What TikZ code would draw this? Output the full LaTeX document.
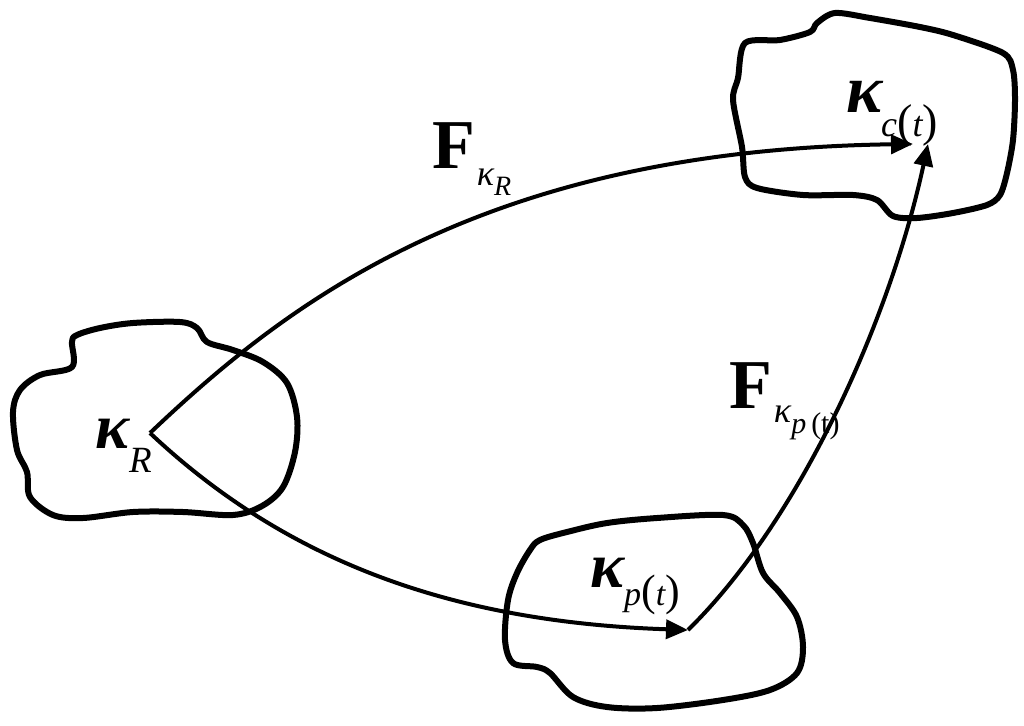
\documentclass[tikz,border=0pt]{standalone}
\usepackage{fontspec}
\setmainfont{Liberation Serif}
\usetikzlibrary{arrows.meta}
\tikzset{
  blob/.style={line width=6pt, line join=round},
  conn/.style={line width=4pt, -{Triangle[length=22pt,width=19pt]}},
  lbl/.style={inner sep=0pt, anchor=base west},
}
\newcommand{\fs}[1]{\fontsize{#1}{#1}\selectfont}
\newcommand{\bk}{{\bfseries\itshape κ}}
\newcommand{\mk}{{\mdseries\itshape κ}}
\begin{document}
\begin{tikzpicture}[x=1pt,y=-1pt]
\useasboundingbox (0,0) rectangle (1024,725);
% left blob
\draw[blob] plot[smooth cycle, tension=0.55] coordinates {
 (72,342) (72,367) (40,375) (20,390) (13,412) (17,450) (27,472) (30,497)
 (53,515) (83,518) (133,512) (183,512) (233,515) (262,506) (283,487)
 (295,452) (297,417) (287,383) (263,362) (233,350) (207,342) (197,328)
 (180,322) (133,323) (100,328) (77,335)};
% top right blob
\draw[blob] plot[smooth cycle, tension=0.5] coordinates {
 (745,43) (780,40) (810,32) (817,23) (835,13) (870,18) (920,27) (953,35)
 (1003,53) (1013,70) (1015,100) (1013,140) (1007,173) (1000,195) (987,205)
 (953,213) (917,218) (893,216) (877,200) (853,195) (803,195) (757,188)
 (745,177) (742,147) (733,100) (738,78)};
% bottom blob
\draw[blob] plot[smooth cycle, tension=0.55] coordinates {
 (540,540) (567,532) (607,523) (657,518) (723,515) (743,525) (753,543)
 (763,573) (780,593) (797,617) (803,647) (797,673) (770,690) (723,700)
 (657,708) (607,707) (573,697) (550,673) (537,667) (513,663) (505,640)
 (508,600) (517,573) (530,550)};
% end points
\coordinate (R) at (150,433);
\coordinate (C) at (913,144);
\coordinate (P) at (688,630);
\coordinate (C2) at (928,144);
% connectors
\draw[conn] (R) .. controls (285,305) and (480,150) .. (C);
\draw[conn] (R) .. controls (285,560) and (450,622) .. (P);
\draw[conn] (P) .. controls (800,520) and (890,320) .. (C2);
% labels
\node[lbl] (kR) at (95,448) {\fs{64}\bk\raisebox{-24pt}{\fs{37}\itshape R}};
\node[lbl] (FR) at (432,168) {\fs{70}\bfseries F\kern2pt\raisebox{-17pt}{\fs{36}\mk\raisebox{-10pt}{\fs{28}\mdseries\itshape R}}};
\node[lbl] (kc) at (846,112) {\fs{68}\bk\kern-1pt\raisebox{-24pt}{\fs{36}\itshape c\fs{46}\upshape(\fs{36}\itshape t\fs{46}\upshape)}};
\node[lbl] (Fp) at (729,408) {\fs{70}\bfseries F\kern2pt\raisebox{-14pt}{\fs{36}\mk\raisebox{-11pt}{\fs{30}\mdseries\itshape p\,\upshape(t)}}};
\node[lbl] (kp) at (590,587) {\fs{64}\bk\raisebox{-18pt}{\fs{34}\itshape p\fs{44}\upshape(\fs{34}\itshape t\fs{44}\upshape)}};
\end{tikzpicture}
\end{document}
